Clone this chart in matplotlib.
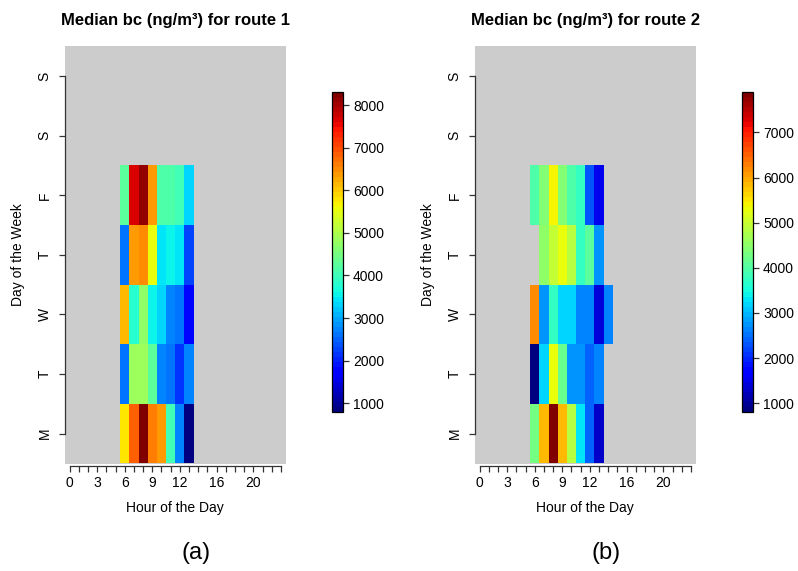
import numpy as np
import matplotlib
matplotlib.use("Agg")
import matplotlib.pyplot as plt
from matplotlib.colors import Normalize

plt.rcParams['font.family'] = ['Liberation Sans', 'DejaVu Sans']

nan = np.nan
days = ["M", "T", "W", "T", "F", "S", "S"]
hour_cols = list(range(6, 15))          # hours that carry data (6..14)
hour_ticks = list(range(24))
hour_labels = [0, 3, 6, 9, 12, 16, 20]

# Route 1 median bc (ng/m3), rows Mon..Fri, columns hours 6..14
r1_mon = [5740, 6860, 8300, 6600, 6360, 3990, 2740, 800, nan]
r1_tue = [2650, 4865, 4900, 4200, 2740, 2650, 2110, 2740, nan]
r1_wed = [6110, 3740, 4780, 3610, 3370, 2740, 2650, 1740, nan]
r1_thu = [2650, 6360, 6540, 5490, 3420, 3610, 3420, 2230, nan]
r1_fri = [4240, 7710, 8110, 6360, 4115, 4100, 4050, 3365, nan]

# Route 2
r2_mon = [4290, 5820, 7890, 5820, 4880, 3340, 2400, 1340, nan]
r2_tue = [810, 3230, 5235, 4170, 2760, 2760, 2400, 2650, nan]
r2_wed = [6230, 2760, 3700, 3230, 3230, 2650, 2580, 1460, 2580]
r2_thu = [nan, 4530, 5000, 5235, 4880, 3700, 4060, 2760, nan]
r2_fri = [3940, 4410, 5400, 4400, 3950, 3700, 2280, 1575, nan]

routes = [
    ("Median bc (ng/m\u00b3) for route 1", [r1_mon, r1_tue, r1_wed, r1_thu, r1_fri], "(a)",
     list(range(1000, 9000, 1000))),
    ("Median bc (ng/m\u00b3) for route 2", [r2_mon, r2_tue, r2_wed, r2_thu, r2_fri], "(b)",
     list(range(1000, 8000, 1000))),
]

W, H = 798, 571
fig = plt.figure(figsize=(W / 100, H / 100), dpi=100)
cmap = plt.get_cmap('jet', 64)

def fx(px):
    return px / W

def fy(py):
    return 1 - py / H

offsets = [0, 410]
for (title, rows, tag, cticks), off in zip(routes, offsets):
    ax_l, ax_r, ax_t, ax_b = 65 + off, 285.5 + off, 46.3, 463.5
    ax = fig.add_axes([fx(ax_l), fy(ax_b), fx(ax_r - ax_l), (ax_b - ax_t) / H])
    grid = np.full((7, 24), nan)
    for d, row in enumerate(rows):
        for h, v in zip(hour_cols, row):
            grid[d, h] = v
    vmin, vmax = np.nanmin(grid), np.nanmax(grid)
    norm = Normalize(vmin, vmax)
    xe = np.arange(25) - 0.5
    ye = np.arange(8) - 0.5
    ax.set_facecolor('#cccccc')
    mesh = ax.pcolormesh(xe, ye, np.ma.masked_invalid(grid), cmap=cmap, norm=norm)
    ax.set_xlim(-0.5, 23.5)
    ax.set_ylim(-0.5, 6.5)
    for s in ['top', 'right']:
        ax.spines[s].set_visible(False)
    ax.spines['left'].set_bounds(0, 6)
    ax.spines['bottom'].set_bounds(0, 23)
    ax.spines['bottom'].set_position(('outward', 1.5))
    for s in ['left', 'bottom']:
        ax.spines[s].set_color('#333333')
        ax.spines[s].set_linewidth(0.9)
    ax.set_xticks(hour_ticks)
    ax.set_xticklabels([str(h) if h in hour_labels else "" for h in hour_ticks])
    ax.set_yticks(range(7))
    ax.set_yticklabels(days, rotation=90, va='center')
    ax.tick_params(axis='both', direction='out', length=4.5, width=0.9,
                   color='#333333', labelsize=10)
    ax.tick_params(axis='y', pad=5)
    ax.tick_params(axis='x', pad=3)
    cx = (ax_l + ax_r) / 2
    fig.text(fx(cx), fy(20), title, ha='center', va='center', fontsize=12,
             fontweight='bold')
    fig.text(fx(cx), fy(508), "Hour of the Day", ha='center', va='center', fontsize=10)
    fig.text(fx(18 + off), fy(254.5), "Day of the Week", ha='center', va='center',
             rotation=90, fontsize=10)
    fig.text(fx(cx + 21), fy(553), tag, ha='center', va='center', fontsize=17)

    cb_l = 331.7 + off
    cax = fig.add_axes([fx(cb_l), fy(411.7), fx(11.6), 319.4 / H])
    cb = fig.colorbar(mesh, cax=cax, ticks=cticks)
    cb.outline.set_linewidth(0.9)
    cb.ax.tick_params(length=4, width=0.9, labelsize=10, pad=3, color='#333333')

fig.savefig("out.png", dpi=100)
